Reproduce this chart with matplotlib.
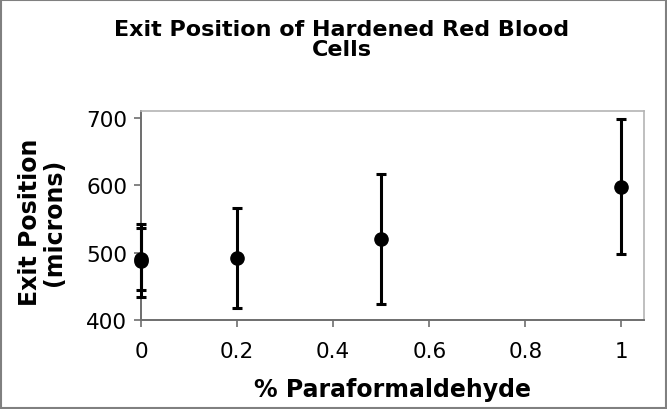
import matplotlib
matplotlib.use("Agg")
import matplotlib.pyplot as plt

# % paraformaldehyde, mean exit position and error (microns)
pfa = [0, 0, 0.2, 0.5, 1.0]
exit_pos = [488, 491, 492, 520, 598]
exit_err = [54, 46, 74, 97, 100]

xticks = [0, 0.2, 0.4, 0.6, 0.8, 1]
xtick_labels = ["0", "0.2", "0.4", "0.6", "0.8", "1"]
yticks = [400, 500, 600, 700]

W, H = 667, 410
fig = plt.figure(figsize=(W / 100, H / 100), dpi=100)
fig.patch.set_facecolor("white")

ax = fig.add_axes([141 / W, 1 - 321 / H, (644 - 141) / W, (321 - 112) / H])
ax.errorbar(pfa, exit_pos, yerr=exit_err, fmt="o", color="black",
            markersize=9.5, elinewidth=2.2, capsize=3.3, capthick=2.2,
            clip_on=False, zorder=3)

ax.set_xlim(0, 1.047)
ax.set_ylim(400, 710)
ax.set_xticks(xticks)
ax.set_xticklabels(xtick_labels)
ax.set_yticks(yticks)
ax.tick_params(axis="both", labelsize=15.5, direction="out", length=5,
               width=1.2, color="#6e6e6e")
ax.tick_params(axis="x", pad=10)
ax.tick_params(axis="y", pad=5)
for side in ("top", "right"):
    ax.spines[side].set_color("#b4b4b4")
    ax.spines[side].set_linewidth(1.2)
for side in ("left", "bottom"):
    ax.spines[side].set_color("#6e6e6e")
    ax.spines[side].set_linewidth(1.4)

fig.text(342 / W, 1 - 40 / H, "Exit Position of Hardened Red Blood\nCells",
         ha="center", va="center", fontsize=16, fontweight="bold",
         linespacing=0.95)
fig.text(42 / W, 1 - 222 / H, "Exit Position\n(microns)", rotation=90,
         ha="center", va="center", fontsize=17, fontweight="bold",
         linespacing=1.05)
fig.text(392 / W, 1 - 390 / H, "% Paraformaldehyde", ha="center",
         va="center", fontsize=17, fontweight="bold")

# chart area border
fig.add_artist(plt.Rectangle((0.002, 0.003), 0.996, 0.994,
                             transform=fig.transFigure, fill=False,
                             edgecolor="#808080", linewidth=1.5))

fig.savefig("out.png", dpi=100, facecolor="white")
